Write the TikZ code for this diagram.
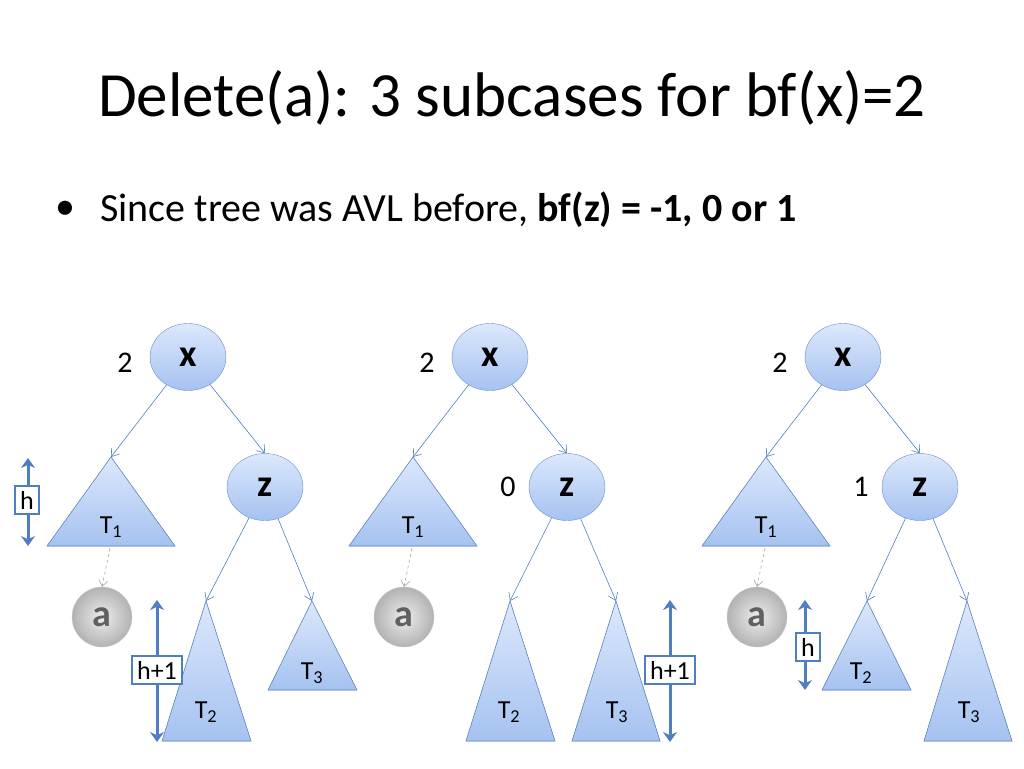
\documentclass[tikz,border=0pt]{standalone}
\usepackage{fontspec}
\setmainfont{Carlito}
\usetikzlibrary{arrows.meta,shapes.geometric}
\definecolor{bd}{HTML}{6A8FCC}
\definecolor{tp}{HTML}{DCE8FC}
\definecolor{bt}{HTML}{A5C2F0}
\definecolor{ar}{HTML}{4F7FC0}
\tikzset{
 tnode/.style={ellipse,draw=bd,top color=tp,bottom color=bt,minimum width=76pt,minimum height=67pt,inner sep=0pt,font=\fontsize{38}{38}\selectfont\bfseries},
 tri/.style={draw=bd,top color=tp,bottom color=bt,line width=0.6pt},
 edge/.style={draw=ar,line width=0.6pt,-{Straight Barb[length=7pt,width=10pt]}},
 anode/.style={circle,draw=gray!40,inner color=gray!15,outer color=gray!60,minimum size=60pt,inner sep=0pt,text=gray!75!black,font=\fontsize{38}{38}\selectfont\bfseries},
 hbox/.style={draw=ar,line width=2pt,fill=white,font=\fontsize{26}{26}\selectfont,inner sep=5pt},
 harrow/.style={draw=ar,line width=3pt,{Stealth[length=10pt,width=14pt]}-{Stealth[length=10pt,width=14pt]}},
 lab/.style={font=\fontsize{30}{30}\selectfont},
 tl/.style={font=\fontsize{26}{26}\selectfont},
}
\begin{document}
\begin{tikzpicture}[x=1pt,y=-1pt]
\useasboundingbox (0,0) rectangle (1024,768);
\node[font=\fontsize{63}{63}\selectfont] (title) at (512,98) {Delete(a): 3 subcases for bf(x)=2};
\node[font=\fontsize{40}{40}\selectfont,anchor=west] (bulm) at (52,210) {\textbullet};
\node[font=\fontsize{40}{40}\selectfont,anchor=west,inner sep=0pt] (bul) at (100,210) {Since tree was AVL before, \textbf{bf(z) = -1, 0 or 1}};
\foreach \o/\n/\zl in {0/A/,302/B/0,655/C/1}{
 \begin{scope}[xshift=\o]
 \node[tnode] (x\n) at (188,357) {x};
 \node[lab] (xl\n) at (125,363) {2};
 \node[tnode] (z\n) at (265,487) {z};
 \node[lab] (zl\n) at (206,487) {\zl};
 \coordinate (t1\n) at (111,457);
 \fill[tri] (t1\n) -- (47,546) -- (175,546) -- cycle;
 \node[tl] (t1l\n) at (111,527) {T\textsubscript{1}};
 \node[anode] (a\n) at (102,617) {a};
 \draw[edge] (x\n) -- (t1\n);
 \draw[edge] (x\n) -- (z\n.north);
 \draw[gray!70,dashed,line width=0.6pt,-{Straight Barb[length=6pt,width=9pt]}] (110,548) -- (a\n.north);
 \end{scope}
}
% Tree A
\coordinate (t2A) at (206,601); \fill[tri] (t2A) -- (162,741) -- (251,741) -- cycle;
\node[tl] (t2lA) at (206,712) {T\textsubscript{2}};
\coordinate (t3A) at (312,601); \fill[tri] (t3A) -- (268,690) -- (357,690) -- cycle;
\node[tl] (t3lA) at (312,673) {T\textsubscript{3}};
\draw[edge] (zA) -- (t2A); \draw[edge] (zA) -- (t3A);
\coordinate (hAt) at (28,458); \coordinate (hAb) at (28,546);
\draw[harrow] (hAt) -- (hAb);
\node[hbox] (hA) at (27,500) {h};
\coordinate (h1At) at (157,600); \coordinate (h1Ab) at (157,742);
\draw[harrow] (h1At) -- (h1Ab);
\node[hbox] (h1A) at (157,670) {h+1};
% Tree B
\coordinate (t2B) at (510,601); \fill[tri] (t2B) -- (466,741) -- (555,741) -- cycle;
\node[tl] (t2lB) at (509,712) {T\textsubscript{2}};
\coordinate (t3B) at (616,601); \fill[tri] (t3B) -- (572,741) -- (660,741) -- cycle;
\node[tl] (t3lB) at (617,712) {T\textsubscript{3}};
\draw[edge] (zB) -- (t2B); \draw[edge] (zB) -- (t3B);
\coordinate (h1Bt) at (670,600); \coordinate (h1Bb) at (670,742);
\draw[harrow] (h1Bt) -- (h1Bb);
\node[hbox] (h1B) at (670,670) {h+1};
% Tree C
\coordinate (t2C) at (867,601); \fill[tri] (t2C) -- (822,690) -- (911,690) -- cycle;
\node[tl] (t2lC) at (861,673) {T\textsubscript{2}};
\coordinate (t3C) at (967,601); \fill[tri] (t3C) -- (924,741) -- (1012,741) -- cycle;
\node[tl] (t3lC) at (969,712) {T\textsubscript{3}};
\draw[edge] (zC) -- (t2C); \draw[edge] (zC) -- (t3C);
\coordinate (hCt) at (805,600); \coordinate (hCb) at (805,690);
\draw[harrow] (hCt) -- (hCb);
\node[hbox] (hC) at (808,647) {h};
\end{tikzpicture}
\end{document}
